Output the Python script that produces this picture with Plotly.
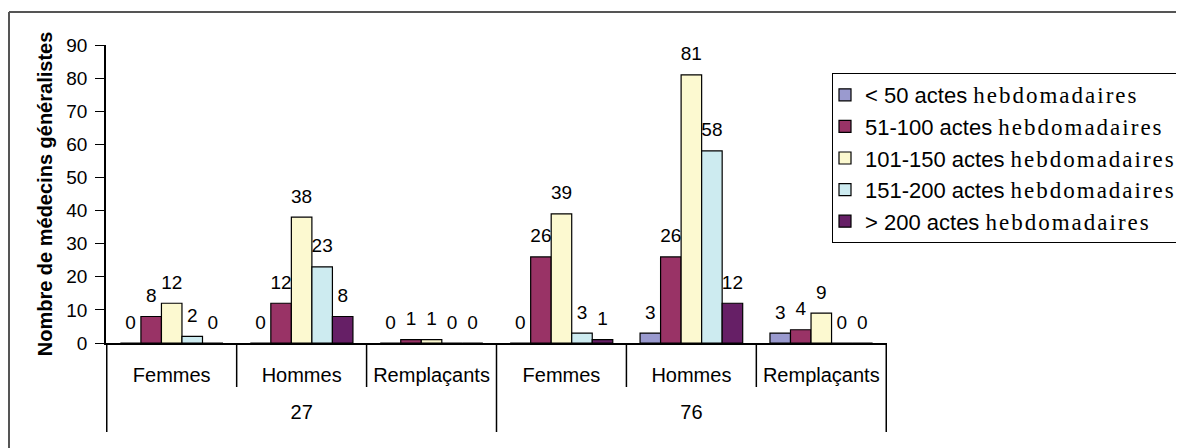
import plotly.graph_objects as go

groups = ["27", "27", "27", "76", "76", "76"]
categories = ["Femmes", "Hommes", "Remplaçants", "Femmes", "Hommes", "Remplaçants"]

series_names = [
    "< 50 actes",
    "51-100 actes",
    "101-150 actes",
    "151-200 actes",
    "> 200 actes",
]
s_lt50 = [0, 0, 0, 0, 3, 3]
s_51_100 = [8, 12, 1, 26, 26, 4]
s_101_150 = [12, 38, 1, 39, 81, 9]
s_151_200 = [2, 23, 0, 3, 58, 0]
s_gt200 = [0, 8, 0, 1, 12, 0]
series_values = [s_lt50, s_51_100, s_101_150, s_151_200, s_gt200]
colors = ["#9a9acf", "#993366", "#fcf9d0", "#cdebf0", "#661f66"]

y_ticks = [0, 10, 20, 30, 40, 50, 60, 70, 80, 90]

FONT = "Liberation Sans, Arial, sans-serif"
SERIF = "Liberation Serif, Times New Roman, serif"

fig = go.Figure()
x = [groups, [c + "<br> " for c in categories]]
for name, vals, col in zip(series_names, series_values, colors):
    legend_name = (f"{name} <span style='font-family:{SERIF};font-size:23px;"
                   f"letter-spacing:2px'>hebdomadaires</span>")
    fig.add_trace(go.Bar(
        x=x, y=vals, name=legend_name, marker=dict(color=col, line=dict(color="black", width=1.2)),
        offsetgroup=name, hoverinfo="y",
    ))
for name, vals in zip(series_names, series_values):
    fig.add_trace(go.Scatter(
        x=x, y=vals, mode="markers+text", text=[str(v) for v in vals],
        textposition="top center", textfont=dict(family=FONT, size=19, color="black"),
        marker=dict(size=14, color="rgba(0,0,0,0)"), offsetgroup=name,
        showlegend=False, hoverinfo="skip", cliponaxis=False,
    ))

# page body has an 8px margin; figure sized to fill the rest of the 1184x448 window
W, H = 1176, 440
L, R, T, B = 98, 297, 37, 105
pw = W - L - R
ph = H - T - B

shapes = []
n = len(categories)
for i in range(n + 1):
    xb = i - 0.5
    is_outer = i == 0 or i == n or groups[i - 1] != groups[i]
    shapes.append(dict(type="line", xref="x", yref="paper", x0=xb, x1=xb, y0=0,
                       y1=-(89 if is_outer else 44) / ph, line=dict(color="black", width=1.5)))
# outer chart frame (cut at right & bottom)
fx = (1 - L) / pw
fy = (H - B - 4) / ph
shapes.append(dict(type="line", xref="paper", yref="paper", x0=fx, x1=(W + 10 - L) / pw,
                   y0=fy, y1=fy, line=dict(color="#555555", width=2)))
shapes.append(dict(type="line", xref="paper", yref="paper", x0=fx, x1=fx,
                   y0=fy, y1=-(B + 10) / ph, line=dict(color="#555555", width=2)))

fig.update_layout(
    width=W, height=H,
    margin=dict(l=L, r=R, t=T, b=B, autoexpand=False),
    paper_bgcolor="white", plot_bgcolor="white",
    barmode="group", bargap=0.21, bargroupgap=0,
    scattermode="group", scattergap=0.21,
    font=dict(family=FONT, size=19, color="black"),
    showlegend=True,
    legend=dict(x=(824 - L) / pw, y=(H - B - 65) / ph, xanchor="left", yanchor="top",
                bordercolor="black", borderwidth=1, bgcolor="white", indentation=-8,
                font=dict(family=FONT, size=22, color="black"), traceorder="normal"),
    shapes=shapes,
)
fig.update_yaxes(range=[0, 90], tickvals=y_ticks, ticks="outside", ticklen=9, tickcolor="black",
                 showline=True, linecolor="black", linewidth=1.5, showgrid=False, zeroline=False,
                 tickfont=dict(size=19), ticklabelstandoff=4,
                 title=dict(text="<b>Nombre de médecins généralistes</b>", font=dict(size=20), standoff=8))
fig.update_xaxes(showline=True, linecolor="black", linewidth=1.5, showgrid=False, ticks="",
                 showdividers=False, tickfont=dict(size=20), ticklabelstandoff=13)

fig.write_html("out.html")
